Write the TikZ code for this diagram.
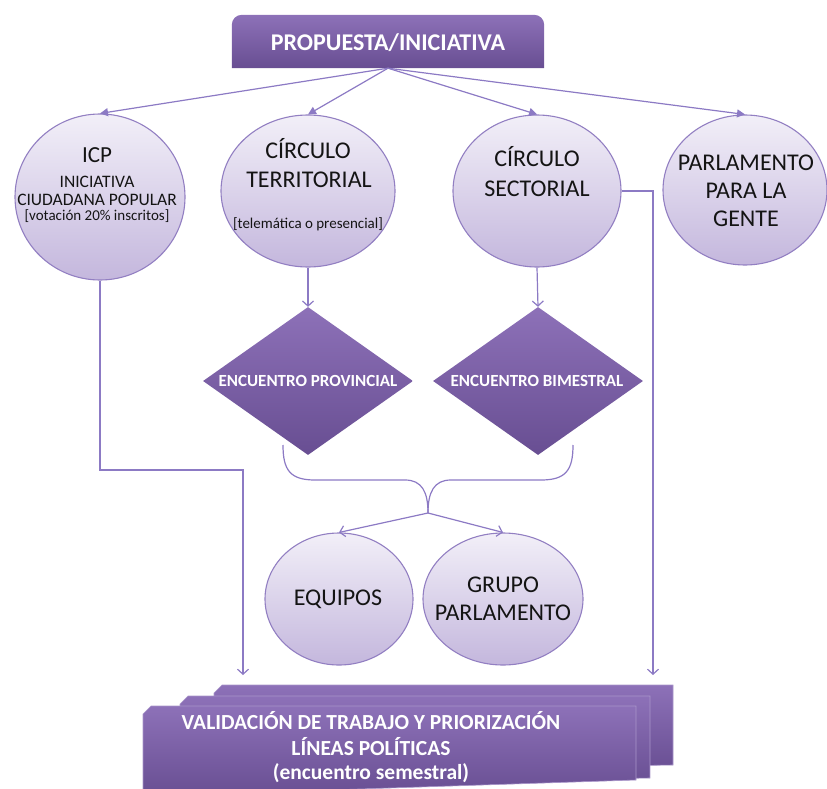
\documentclass[tikz,border=0pt]{standalone}
\usepackage{fontspec}
\setmainfont{Carlito}
\usetikzlibrary{shapes.geometric,arrows.meta}
\definecolor{pTop}{RGB}{141,113,184}
\definecolor{pBot}{RGB}{104,78,146}
\definecolor{cTop}{RGB}{242,239,248}
\definecolor{cBot}{RGB}{196,183,221}
\definecolor{cEdge}{RGB}{146,127,194}
\definecolor{lineC}{RGB}{140,122,196}
\begin{document}
\begin{tikzpicture}[x=1pt,y=-1pt,
  bubble/.style={ellipse, draw=cEdge, line width=1.1pt, top color=cTop, bottom color=cBot, inner sep=0pt},
  gem/.style={diamond, top color=pTop, bottom color=pBot, inner sep=0pt, minimum width=210pt, minimum height=148pt},
  conn/.style={draw=lineC, line width=1.2pt},
  tri/.style={conn, -{Triangle[length=8pt,width=8pt]}},
  barb/.style={conn, -{Straight Barb[length=5pt,width=11pt]}},
  lbl/.style={anchor=base, text=black!92, inner sep=0pt},
  wlbl/.style={anchor=base, text=white, inner sep=0pt},
  big/.style={lbl, font=\fontsize{24}{28}\selectfont},
  mid/.style={lbl, font=\fontsize{17.5}{20}\selectfont},
  sml/.style={lbl, font=\fontsize{15}{17}\selectfont},
  layer/.style={top color=pTop, bottom color=pBot, draw=pTop!75!white, line width=0.6pt}
]
\useasboundingbox (0,0) rectangle (827,789);
\clip (0,0) rectangle (827,789);

% top box
\node[minimum width=312pt, minimum height=53pt, inner sep=0pt] (top) at (388,41.5) {};
\shade[top color=pTop, bottom color=pBot, rounded corners=10pt]
  (top.south west) -- (top.north west) -- (top.north east) -- (top.south east);
\node[wlbl, font=\bfseries\fontsize{24}{28}\selectfont] (ttop) at (388,51) {PROPUESTA/INICIATIVA};

% circles
\node[bubble, minimum width=170pt, minimum height=166pt] (icp) at (100,197) {};
\node[bubble, minimum width=174pt, minimum height=152pt] (ter) at (308,191) {};
\node[bubble, minimum width=168pt, minimum height=152pt] (sec) at (537,191) {};
\node[bubble, minimum width=164pt, minimum height=150pt] (par) at (745,190) {};
\node[bubble, minimum width=148pt, minimum height=132pt] (equ) at (339,599) {};
\node[bubble, minimum width=160pt, minimum height=132pt] (gru) at (503,599) {};

% diamonds
\node[gem] (prov) at (308,381) {};
\node[gem] (bim) at (538,381) {};

% bottom stacked box
\shade[layer] (214,772) -- (214,693) -- (222,685) -- (673,685) -- (673,765) -- cycle;
\shade[layer] (180,786) -- (180,704) -- (188,696) -- (650,696) -- (650,778) -- cycle;
\shade[layer] (143,796) -- (143,714) -- (151,706) -- (636,706) -- (636,780) -- cycle;

% texts in circles
\node[lbl, font=\fontsize{23}{26}\selectfont] (ticp1) at (97,162) {ICP};
\node[mid] (ticp2) at (97,187) {INICIATIVA};
\node[mid] (ticp3) at (97,205) {CIUDADANA POPULAR};
\node[sml] (ticp4) at (97,220) {[votación 20\% inscritos]};

\node[big] (tter1) at (308,158) {CÍRCULO};
\node[big] (tter2) at (309,187) {TERRITORIAL};
\node[sml] (tter3) at (308,228) {[telemática o presencial]};

\node[big] (tsec1) at (537,166) {CÍRCULO};
\node[big] (tsec2) at (537,196) {SECTORIAL};

\node[big] (tpar1) at (746,170) {PARLAMENTO};
\node[big] (tpar2) at (746,198) {PARA LA};
\node[big] (tpar3) at (746,226) {GENTE};

\node[big] (tequ) at (338,605) {EQUIPOS};
\node[big] (tgru1) at (503,592) {GRUPO};
\node[big] (tgru2) at (503,620) {PARLAMENTO};

% diamond texts
\node[wlbl, font=\bfseries\fontsize{17}{20}\selectfont] (tprov) at (308,386) {ENCUENTRO PROVINCIAL};
\node[wlbl, font=\bfseries\fontsize{17}{20}\selectfont] (tbim) at (537,386) {ENCUENTRO BIMESTRAL};

% bottom texts
\node[wlbl, font=\bfseries\fontsize{21.5}{25}\selectfont] (tv1) at (371,729) {VALIDACIÓN DE TRABAJO Y PRIORIZACIÓN};
\node[wlbl, font=\bfseries\fontsize{21.5}{25}\selectfont] (tv2) at (371,755) {LÍNEAS POLÍTICAS};
\node[wlbl, font=\bfseries\fontsize{21.5}{25}\selectfont] (tv3) at (371,779) {(encuentro semestral)};

% connectors from top
\draw[tri] (top.south) -- (icp.north);
\draw[tri] (top.south) -- (ter.north);
\draw[tri] (top.south) -- (sec.north);
\draw[tri] (top.south) -- (par.north);

% down into diamonds
\draw[barb] (ter.south) -- (prov.north);
\draw[barb] (sec.south) -- (bim.north);

% brace
\coordinate (brL) at (283,445);
\coordinate (brR) at (573,445);
\coordinate (bt) at (428,513);
\draw[conn] (brL) .. controls (283,470) and (290,480) .. (315,480) -- (405,480)
  .. controls (422,480) and (428,492) .. (bt);
\draw[conn] (brR) .. controls (573,470) and (566,480) .. (541,480) -- (451,480)
  .. controls (434,480) and (428,492) .. (bt);
\draw[barb] (bt) -- (equ.north);
\draw[barb] (bt) -- (gru.north);

% into bottom box
\coordinate (bendL) at (100,470);
\coordinate (inL) at (243,675);
\coordinate (inR) at (653,675);
\draw[barb] (icp.south) -- (bendL) -| (inL);
\draw[barb] (sec.east) -| (inR);
\end{tikzpicture}
\end{document}
